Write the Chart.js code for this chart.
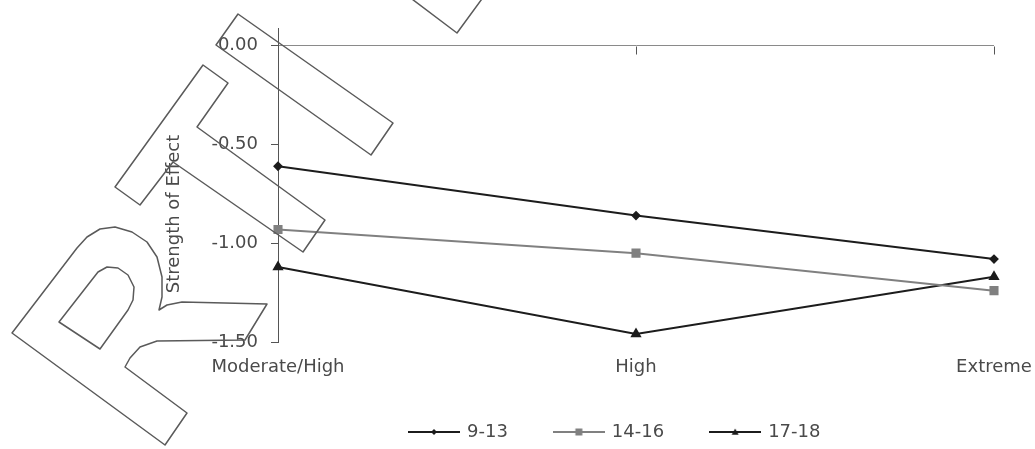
<!DOCTYPE html>
<html>
<head>
<meta charset="utf-8">
<title>Strength of Effect</title>
<script src="https://cdn.jsdelivr.net/npm/chart.js@4"></script>
<style>
  html, body { margin: 0; padding: 0; background: #fff; }
  #wrap { width: 1035px; height: 449px; position: relative; }
</style>
</head>
<body>
<div id="wrap"><canvas id="chart"></canvas></div>
<script>
// values
const categories = ['Moderate/High', 'High', 'Extreme'];
const age9to13 = [-0.61, -0.86, -1.08];
const age14to16 = [-0.93, -1.05, -1.24];
const age17to18 = [-1.12, -1.46, -1.17];
const seriesLabels = ['9-13', '14-16', '17-18'];
const yTicks = [0, -0.5, -1, -1.5];
const yTitle = 'Strength of Effect';

const DARK = '#1c1c1c';
const GREY = '#808080';
const TEXT = '#4a4a4a';

Chart.defaults.font.family = "'DejaVu Sans', sans-serif";
Chart.defaults.font.size = 18;
Chart.defaults.color = TEXT;

// little line+marker picture for the legend
function legendIcon(color, shape, r) {
    const c = document.createElement('canvas');
    c.width = 52; c.height = 14;
    const g = c.getContext('2d');
    g.strokeStyle = color; g.fillStyle = color; g.lineWidth = 2;
    g.beginPath(); g.moveTo(0, 7); g.lineTo(52, 7); g.stroke();
    g.beginPath();
    if (shape === 'rectRot') { g.moveTo(26, 7 - r); g.lineTo(26 + r, 7); g.lineTo(26, 7 + r); g.lineTo(26 - r, 7); }
    else if (shape === 'rect') { g.rect(26 - r, 7 - r, 2 * r, 2 * r); }
    else { g.moveTo(26, 7 - r); g.lineTo(26 + r, 7 + r * 0.8); g.lineTo(26 - r, 7 + r * 0.8); }
    g.closePath(); g.fill();
    return c;
}
const legendIcons = [
    legendIcon(DARK, 'rectRot', 3),
    legendIcon(GREY, 'rect', 3.5),
    legendIcon(DARK, 'triangle', 3.5)
];

// tick marks hanging under the zero line at each category
const zeroTicks = {
    id: 'zeroTicks',
    beforeDatasetsDraw(chart) {
        const {ctx, scales: {x, y}} = chart;
        const y0 = Math.round(y.getPixelForValue(0)) + 0.5;
        ctx.save();
        ctx.strokeStyle = '#555';
        ctx.lineWidth = 1;
        categories.forEach((c, i) => {
            const px = Math.round(x.getPixelForValue(i)) + 0.5;
            ctx.beginPath(); ctx.moveTo(px, y0); ctx.lineTo(px, y0 + 8); ctx.stroke();
        });
        ctx.restore();
    }
};

// y title placed by hand (sits lower than the axis centre in the original)
const yTitlePlugin = {
    id: 'yTitlePlugin',
    afterDraw(chart) {
        const ctx = chart.ctx;
        ctx.save();
        ctx.translate(174, 214);
        ctx.rotate(-Math.PI / 2);
        ctx.font = "18px 'DejaVu Sans', sans-serif";
        ctx.fillStyle = TEXT;
        ctx.textAlign = 'center';
        ctx.textBaseline = 'middle';
        ctx.fillText(yTitle, 0, 0);
        ctx.restore();
    }
};

// legend row and category labels nudged to where they sit in the original
const layoutTweaks = {
    id: 'layoutTweaks',
    afterLayout(chart) {
        const lg = chart.legend;
        const p = lg.options.labels.padding;
        const start = (lg.left + p + lg.right - lg.lineWidths[0]) / 2;
        const d = 410 - start;
        lg.left += d; lg.right += d;
        lg.top += 2; lg.bottom += 2;
        // let the category labels overhang the axis box without being clipped
        chart.scales.x.bottom += 12;
    }
};

// outlined "RTI" watermark stamped over the chart
const watermark = {
    id: 'watermark',
    afterDraw(chart) {
        const ctx = chart.ctx;
        const shapes = [
            [[12,333],[77,248],[87,237],[100,229],[115,227],[132,232],[147,242],[157,257],[162,277],[162,297],[159,310],[167,305],[182,302],[267,304],[245,340],[157,341],[140,347],[130,358],[125,367],[187,413],[165,445]],
            [[59,322],[98,272],[107,267],[118,268],[128,275],[134,287],[133,300],[128,310],[100,349]],
            [[203,65],[228,83],[197,127],[325,220],[303,252],[173,162],[140,205],[115,187]],
            [[238,14],[393,123],[371,155],[216,45]]
        ];
        ctx.save();
        ctx.strokeStyle = '#5a5a5a';
        ctx.lineWidth = 1.5;
        ctx.lineJoin = 'round';
        shapes.forEach(s => {
            ctx.beginPath();
            s.forEach((p, i) => i ? ctx.lineTo(p[0], p[1]) : ctx.moveTo(p[0], p[1]));
            ctx.closePath();
            ctx.stroke();
        });
        ctx.beginPath();
        ctx.moveTo(400, -10); ctx.lineTo(457, 33); ctx.lineTo(487, -8);
        ctx.stroke();
        ctx.restore();
    }
};

new Chart(document.getElementById('chart'), {
    type: 'line',
    data: {
        labels: categories,
        datasets: [
            { label: seriesLabels[0], data: age9to13, borderColor: DARK, backgroundColor: DARK,
              borderWidth: 2, pointStyle: 'rectRot', pointRadius: 3.5, tension: 0 },
            { label: seriesLabels[1], data: age14to16, borderColor: GREY, backgroundColor: GREY,
              borderWidth: 2, pointStyle: 'rect', pointRadius: 5, tension: 0 },
            { label: seriesLabels[2], data: age17to18, borderColor: DARK, backgroundColor: DARK,
              borderWidth: 2, pointStyle: 'triangle', pointRadius: 4.5, tension: 0 }
        ]
    },
    options: {
        responsive: true,
        maintainAspectRatio: false,
        animation: false,
        layout: { padding: { top: 28, right: 41, left: 0, bottom: 0 } },
        scales: {
            x: {
                offset: false,
                grid: { display: false },
                border: { display: false },
                ticks: { padding: 7, color: TEXT, maxRotation: 0, autoSkip: false },
                afterFit: s => { s.paddingLeft = 0; s.paddingRight = 0; s.height = 32; }
            },
            y: {
                min: -1.5,
                max: 0.09,
                afterBuildTicks: s => { s.ticks = yTicks.map(v => ({ value: v })); },
                afterFit: s => { s.width = 278; s.paddingTop = 0; s.paddingBottom = 0; },
                grid: {
                    color: c => (c.tick && c.tick.value === 0) ? '#8a8a8a' : 'rgba(0,0,0,0)',
                    lineWidth: 1,
                    drawTicks: true,
                    tickLength: 7,
                    tickColor: '#555'
                },
                border: { display: true, color: '#555', width: 1 },
                ticks: { padding: 13, color: TEXT, callback: v => Number(v).toFixed(2) }
            }
        },
        plugins: {
            legend: {
                position: 'bottom',
                labels: {
                    usePointStyle: true,
                    pointStyleWidth: 48,
                    padding: 47,
                    color: TEXT,
                    generateLabels: chart => chart.data.datasets.map((ds, i) => ({
                        text: ds.label,
                        pointStyle: legendIcons[i],
                        fillStyle: ds.borderColor,
                        strokeStyle: ds.borderColor,
                        lineWidth: 0,
                        hidden: false,
                        datasetIndex: i,
                        fontColor: TEXT
                    }))
                }
            },
            tooltip: { enabled: false }
        }
    },
    plugins: [zeroTicks, yTitlePlugin, layoutTweaks, watermark]
});
</script>
</body>
</html>
